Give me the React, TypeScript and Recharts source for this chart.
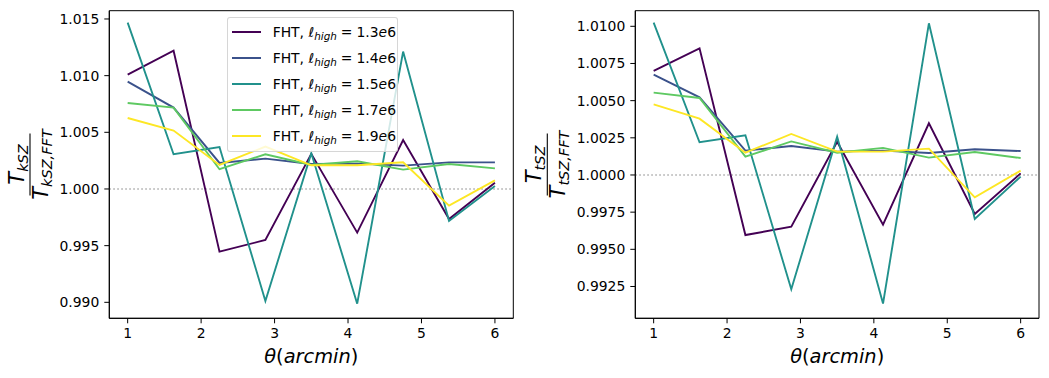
import React from "react";
import { LineChart, Line, XAxis, YAxis, ReferenceLine, ReferenceArea } from "recharts";

// angular bins (arcmin)
const theta = [1, 1.625, 2.25, 2.875, 3.5, 4.125, 4.75, 5.375, 6];
const ellHigh = ["1.3", "1.4", "1.5", "1.7", "1.9"];
const colors = ["#440154", "#3b528b", "#21918c", "#5ec962", "#fde725"];

// T_kSZ / T_kSZ,FFT
const ksz13 = [1.01009, 1.0122, 0.99447, 0.9955, 1.0031, 0.99615, 1.00432, 0.99735, 1.00056];
const ksz14 = [1.00947, 1.00718, 1.0023, 1.00268, 1.0022, 1.00224, 1.00206, 1.00235, 1.00235];
const ksz15 = [1.01468, 1.00306, 1.0037, 0.99012, 1.00315, 0.98988, 1.01212, 0.99718, 1.00026];
const ksz17 = [1.00759, 1.00718, 1.00174, 1.00306, 1.00212, 1.00244, 1.00171, 1.0022, 1.00182];
const ksz19 = [1.00626, 1.00515, 1.00212, 1.00374, 1.00209, 1.00209, 1.00235, 0.99853, 1.00076];

// T_tSZ / T_tSZ,FFT
const tsz13 = [1.007, 1.00852, 0.99596, 0.99652, 1.00224, 0.99666, 1.00348, 0.99738, 1.00011];
const tsz14 = [1.00675, 1.00522, 1.00164, 1.00195, 1.00157, 1.00164, 1.00148, 1.00173, 1.00161];
const tsz15 = [1.01025, 1.0022, 1.00267, 0.99231, 1.00258, 0.99135, 1.0102, 0.99704, 0.99989];
const tsz17 = [1.00554, 1.00518, 1.00123, 1.00226, 1.0015, 1.00182, 1.00117, 1.00155, 1.00114];
const tsz19 = [1.00475, 1.00379, 1.0015, 1.00276, 1.00157, 1.00157, 1.00177, 0.9985, 1.00029];

const xTicks = [1, 2, 3, 4, 5, 6];
const kszTicks = [0.99, 0.995, 1.0, 1.005, 1.01, 1.015];
const tszTicks = [0.9925, 0.995, 0.9975, 1.0, 1.0025, 1.005, 1.0075, 1.01];

const keys = ["s0", "s1", "s2", "s3", "s4"];

function buildRows(series: number[][]) {
  return theta.map((t, i) => {
    const row: Record<string, number> = { theta: t };
    series.forEach((s, k) => (row[keys[k]] = s[i]));
    return row;
  });
}

const kszRows = buildRows([ksz13, ksz14, ksz15, ksz17, ksz19]);
const tszRows = buildRows([tsz13, tsz14, tsz15, tsz17, tsz19]);

const FONT = "'DejaVu Sans', sans-serif";
const XDOM: [number, number] = [0.75, 6.25];

function Panel({
  rows,
  left,
  width,
  marginLeft,
  marginRight,
  yDomain,
  yTicks,
  digits,
}: {
  rows: Record<string, number>[];
  left: number;
  width: number;
  marginLeft: number;
  marginRight: number;
  yDomain: [number, number];
  yTicks: number[];
  digits: number;
}) {
  const tickStyle = { fontSize: 13.9, fill: "#000", fontFamily: FONT };
  return (
    <div style={{ position: "absolute", left, top: 0 }}>
      <LineChart
        width={width}
        height={378}
        data={rows}
        margin={{ top: 10.7, right: marginRight, bottom: 29.7, left: marginLeft }}
      >
        <XAxis
          dataKey="theta"
          type="number"
          domain={XDOM}
          ticks={xTicks}
          allowDataOverflow
          height={30}
          tickSize={5}
          tickMargin={5}
          tick={tickStyle}
          stroke="#000"
          tickLine={{ stroke: "#000" }}
        />
        <YAxis
          type="number"
          domain={yDomain}
          ticks={yTicks}
          allowDataOverflow
          width={60}
          tickSize={5}
          tickMargin={5}
          tick={tickStyle}
          tickFormatter={(v: number) => v.toFixed(digits)}
          stroke="#000"
          tickLine={{ stroke: "#000" }}
        />
        <ReferenceLine y={1} stroke="#a8a8a8" strokeWidth={1.5} strokeDasharray="1.5 2.5" />
        {keys.map((k, i) => (
          <Line
            key={k}
            dataKey={k}
            type="linear"
            stroke={colors[i]}
            strokeWidth={1.9}
            dot={false}
            activeDot={false}
            isAnimationActive={false}
          />
        ))}
        <ReferenceArea
          x1={XDOM[0]}
          x2={XDOM[1]}
          y1={yDomain[0]}
          y2={yDomain[1]}
          fill="none"
          stroke="#000"
          strokeWidth={1}
          ifOverflow="visible"
        />
      </LineChart>
    </div>
  );
}

function Fraction({ cx, cy, sub }: { cx: number; cy: number; sub: string }) {
  return (
    <g transform={`translate(${cx},${cy}) rotate(-90)`} fontFamily={FONT} fontStyle="italic" fill="#000">
      <text x={0} y={-6} textAnchor="middle">
        <tspan fontSize={21}>T</tspan>
        <tspan fontSize={14.5} dy={4}>{sub}</tspan>
      </text>
      <line x1={-31} x2={31} y1={0} y2={0} stroke="#000" strokeWidth={1.1} />
      <text x={0} y={18} textAnchor="middle">
        <tspan fontSize={21}>T</tspan>
        <tspan fontSize={14.5} dy={4}>{sub + ",FFT"}</tspan>
      </text>
    </g>
  );
}

function XLabel({ cx }: { cx: number }) {
  return (
    <text x={cx} y={363} textAnchor="middle" fontFamily={FONT} fontSize={19.4} fill="#000">
      <tspan fontStyle="italic">θ</tspan>
      <tspan>(</tspan>
      <tspan fontStyle="italic">arcmin</tspan>
      <tspan>)</tspan>
    </text>
  );
}

function LegendBox() {
  return (
    <div
      style={{
        position: "absolute",
        left: 226.7,
        top: 17.3,
        width: 171,
        height: 134.4,
        boxSizing: "border-box",
        background: "rgba(255,255,255,0.8)",
        border: "1px solid rgba(204,204,204,0.8)",
        borderRadius: 3,
        fontFamily: FONT,
        fontSize: 13.9,
        color: "#000",
      }}
    >
      {ellHigh.map((e, i) => (
        <div
          key={e}
          style={{
            position: "absolute",
            left: 0,
            top: 0.4 + i * 26,
            height: 26,
            width: "100%",
            display: "flex",
            alignItems: "center",
            whiteSpace: "nowrap",
          }}
        >
          <span
            style={{
              position: "absolute",
              left: 4,
              width: 29,
              height: 2,
              background: colors[i],
            }}
          />
          <span style={{ position: "absolute", left: 45 }}>
            FHT, <i>ℓ</i>
            <i style={{ fontSize: 10.4, position: "relative", top: 3 }}>high</i>
            <span style={{ margin: "0 4px" }}>=</span>
            {e}
            <i>e</i>6
          </span>
        </div>
      ))}
    </div>
  );
}

export default function App() {
  return (
    <div
      style={{
        position: "fixed",
        left: 0,
        top: 0,
        width: 1049,
        height: 378,
        background: "#fff",
        overflow: "hidden",
      }}
    >
      <Panel
        rows={kszRows}
        left={0}
        width={520}
        marginLeft={49.3}
        marginRight={6.7}
        yDomain={[0.98859, 1.01573]}
        yTicks={kszTicks}
        digits={3}
      />
      <Panel
        rows={tszRows}
        left={520}
        width={529}
        marginLeft={55.3}
        marginRight={10}
        yDomain={[0.99036, 1.01105]}
        yTicks={tszTicks}
        digits={4}
      />
      <svg
        width={1049}
        height={378}
        style={{ position: "absolute", left: 0, top: 0, pointerEvents: "none" }}
      >
        <Fraction cx={30} cy={164.5} sub="kSZ" />
        <Fraction cx={547.3} cy={164.5} sub="tSZ" />
        <XLabel cx={311.3} />
        <XLabel cx={837.2} />
      </svg>
      <LegendBox />
    </div>
  );
}
